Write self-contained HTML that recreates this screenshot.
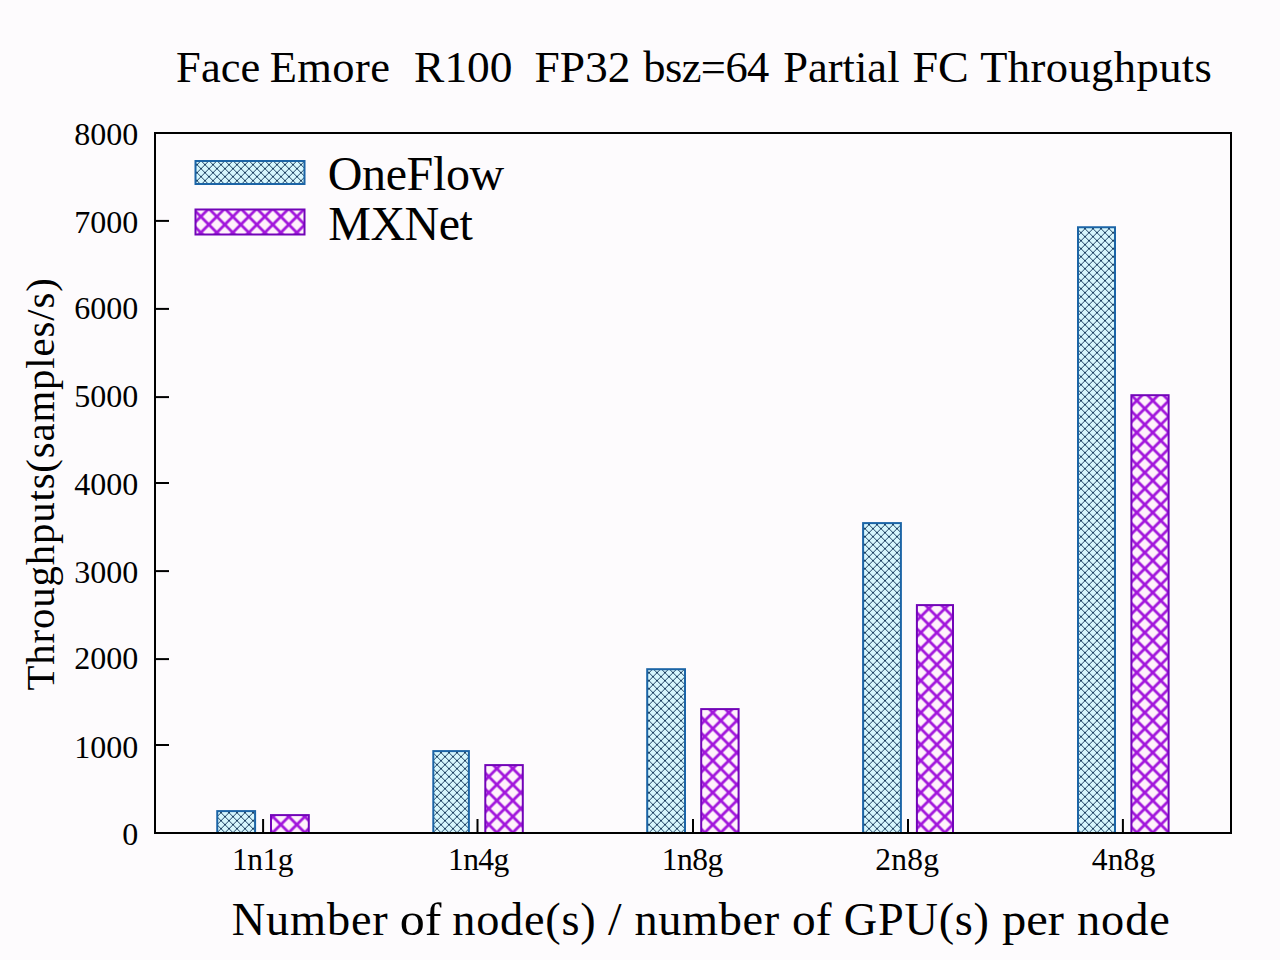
<!DOCTYPE html>
<html><head><meta charset="utf-8"><style>
html,body{margin:0;padding:0;background:#fdfbfd;overflow:hidden;}
svg{display:block;}
text{font-family:"Liberation Serif",serif;fill:#000;}
</style></head><body>
<svg width="1280" height="960" viewBox="0 0 1280 960">
<defs>
<pattern id="pof" patternUnits="userSpaceOnUse" width="8" height="8" x="1" y="0.7">
<rect width="8" height="8" fill="#d6f6fd"/>
<path d="M-1,1 L1,-1 M0,8 L8,0 M7,9 L9,7 M-1,7 L1,9 M0,0 L8,8 M7,-1 L9,1" stroke="#14375a" stroke-width="0.95"/>
</pattern>
<pattern id="pmx" patternUnits="userSpaceOnUse" width="16" height="16" x="0.8" y="0.6">
<rect width="16" height="16" fill="#fff2fb"/>
<path d="M-2,2 L2,-2 M0,16 L16,0 M14,18 L18,14 M-2,14 L2,18 M0,0 L16,16 M14,-2 L18,2" stroke="#a216dc" stroke-width="2.8"/>
</pattern>
</defs>
<rect width="1280" height="960" fill="#fdfbfd"/>
<text x="176.09" y="81.8" font-size="44.5" textLength="84.17" lengthAdjust="spacing">Face</text>
<text x="269.71" y="81.8" font-size="44.5" textLength="120.32" lengthAdjust="spacing">Emore</text>
<text x="414.14" y="81.8" font-size="44.5" textLength="98.39" lengthAdjust="spacingAndGlyphs">R100</text>
<text x="534.53" y="81.8" font-size="44.5" textLength="96.06" lengthAdjust="spacingAndGlyphs">FP32</text>
<text x="643.23" y="81.8" font-size="44.5" textLength="126.10" lengthAdjust="spacing">bsz=64</text>
<text x="783.14" y="81.8" font-size="44.5" textLength="116.38" lengthAdjust="spacing">Partial</text>
<text x="912.43" y="81.8" font-size="44.5" textLength="56.37" lengthAdjust="spacingAndGlyphs">FC</text>
<text x="980.17" y="81.8" font-size="44.5" textLength="231.77" lengthAdjust="spacing">Throughputs</text>
<text x="138.2" y="845.3" font-size="32" text-anchor="end">0</text>
<text x="138.2" y="757.6" font-size="32" text-anchor="end">1000</text>
<line x1="155" y1="745.0" x2="169" y2="745.0" stroke="#000" stroke-width="2"/>
<text x="138.2" y="669.4" font-size="32" text-anchor="end">2000</text>
<line x1="155" y1="659.1" x2="169" y2="659.1" stroke="#000" stroke-width="2"/>
<text x="138.2" y="583.3" font-size="32" text-anchor="end">3000</text>
<line x1="155" y1="571.1" x2="169" y2="571.1" stroke="#000" stroke-width="2"/>
<text x="138.2" y="495.3" font-size="32" text-anchor="end">4000</text>
<line x1="155" y1="483.0" x2="169" y2="483.0" stroke="#000" stroke-width="2"/>
<text x="138.2" y="407.4" font-size="32" text-anchor="end">5000</text>
<line x1="155" y1="397.1" x2="169" y2="397.1" stroke="#000" stroke-width="2"/>
<text x="138.2" y="319.2" font-size="32" text-anchor="end">6000</text>
<line x1="155" y1="308.9" x2="169" y2="308.9" stroke="#000" stroke-width="2"/>
<text x="138.2" y="233.4" font-size="32" text-anchor="end">7000</text>
<line x1="155" y1="220.9" x2="169" y2="220.9" stroke="#000" stroke-width="2"/>
<text x="138.2" y="145.4" font-size="32" text-anchor="end">8000</text>
<rect x="217.25" y="811.10" width="37.85" height="21.90" fill="url(#pof)" stroke="#1b64a6" stroke-width="2"/>
<rect x="271.00" y="815.10" width="37.80" height="17.90" fill="url(#pmx)" stroke="#7204b8" stroke-width="2"/>
<line x1="263.1" y1="819" x2="263.1" y2="833" stroke="#000" stroke-width="2"/>
<rect x="433.30" y="751.10" width="35.60" height="81.90" fill="url(#pof)" stroke="#1b64a6" stroke-width="2"/>
<rect x="485.30" y="765.10" width="37.50" height="67.90" fill="url(#pmx)" stroke="#7204b8" stroke-width="2"/>
<line x1="477.5" y1="819" x2="477.5" y2="833" stroke="#000" stroke-width="2"/>
<rect x="647.20" y="669.20" width="37.80" height="163.80" fill="url(#pof)" stroke="#1b64a6" stroke-width="2"/>
<rect x="701.20" y="709.10" width="37.40" height="123.90" fill="url(#pmx)" stroke="#7204b8" stroke-width="2"/>
<line x1="693" y1="819" x2="693" y2="833" stroke="#000" stroke-width="2"/>
<rect x="863.10" y="523.10" width="37.80" height="309.90" fill="url(#pof)" stroke="#1b64a6" stroke-width="2"/>
<rect x="916.90" y="605.10" width="36.10" height="227.90" fill="url(#pmx)" stroke="#7204b8" stroke-width="2"/>
<line x1="908" y1="819" x2="908" y2="833" stroke="#000" stroke-width="2"/>
<rect x="1078.00" y="227.25" width="37.00" height="605.75" fill="url(#pof)" stroke="#1b64a6" stroke-width="2"/>
<rect x="1131.40" y="395.20" width="37.20" height="437.80" fill="url(#pmx)" stroke="#7204b8" stroke-width="2"/>
<line x1="1122.9" y1="819" x2="1122.9" y2="833" stroke="#000" stroke-width="2"/>
<text x="232.09" y="869.7" font-size="31.5" textLength="61.42" lengthAdjust="spacing">1n1g</text>
<text x="448.11" y="869.7" font-size="31.5" textLength="61.13" lengthAdjust="spacing">1n4g</text>
<text x="661.83" y="869.7" font-size="31.5" textLength="61.35" lengthAdjust="spacing">1n8g</text>
<text x="875.28" y="869.7" font-size="31.5" textLength="63.80" lengthAdjust="spacing">2n8g</text>
<text x="1091.71" y="869.7" font-size="31.5" textLength="63.54" lengthAdjust="spacing">4n8g</text>
<rect x="155" y="133" width="1076" height="700" fill="none" stroke="#000" stroke-width="2"/>
<rect x="195.5" y="161" width="109" height="23" fill="url(#pof)" stroke="#1b64a6" stroke-width="2"/>
<rect x="195.5" y="209.5" width="109" height="25" fill="url(#pmx)" stroke="#7204b8" stroke-width="2"/>
<text x="327.69" y="189.7" font-size="48" textLength="176.60" lengthAdjust="spacing">OneFlow</text>
<text x="328.28" y="239.8" font-size="48" textLength="144.47" lengthAdjust="spacing">MXNet</text>
<text x="231.81" y="935.3" font-size="46.3" textLength="155.93" lengthAdjust="spacing">Number</text>
<text x="399.78" y="935.3" font-size="46.3" textLength="41.68" lengthAdjust="spacingAndGlyphs">of</text>
<text x="452.26" y="935.3" font-size="46.3" textLength="143.38" lengthAdjust="spacing">node(s)</text>
<text x="607.90" y="935.3" font-size="46.3" textLength="13.59" lengthAdjust="spacingAndGlyphs">/</text>
<text x="634.46" y="935.3" font-size="46.3" textLength="144.61" lengthAdjust="spacing">number</text>
<text x="792.09" y="935.3" font-size="46.3" textLength="39.41" lengthAdjust="spacingAndGlyphs">of</text>
<text x="843.77" y="935.3" font-size="46.3" textLength="145.27" lengthAdjust="spacing">GPU(s)</text>
<text x="1002.02" y="935.3" font-size="46.3" textLength="62.04" lengthAdjust="spacingAndGlyphs">per</text>
<text x="1076.90" y="935.3" font-size="46.3" textLength="92.96" lengthAdjust="spacing">node</text>
<text transform="translate(53.8,689.5) rotate(-90)" x="-1" y="0" font-size="40.8" textLength="412.24" lengthAdjust="spacing">Throughputs(samples/s)</text>
</svg></body></html>
